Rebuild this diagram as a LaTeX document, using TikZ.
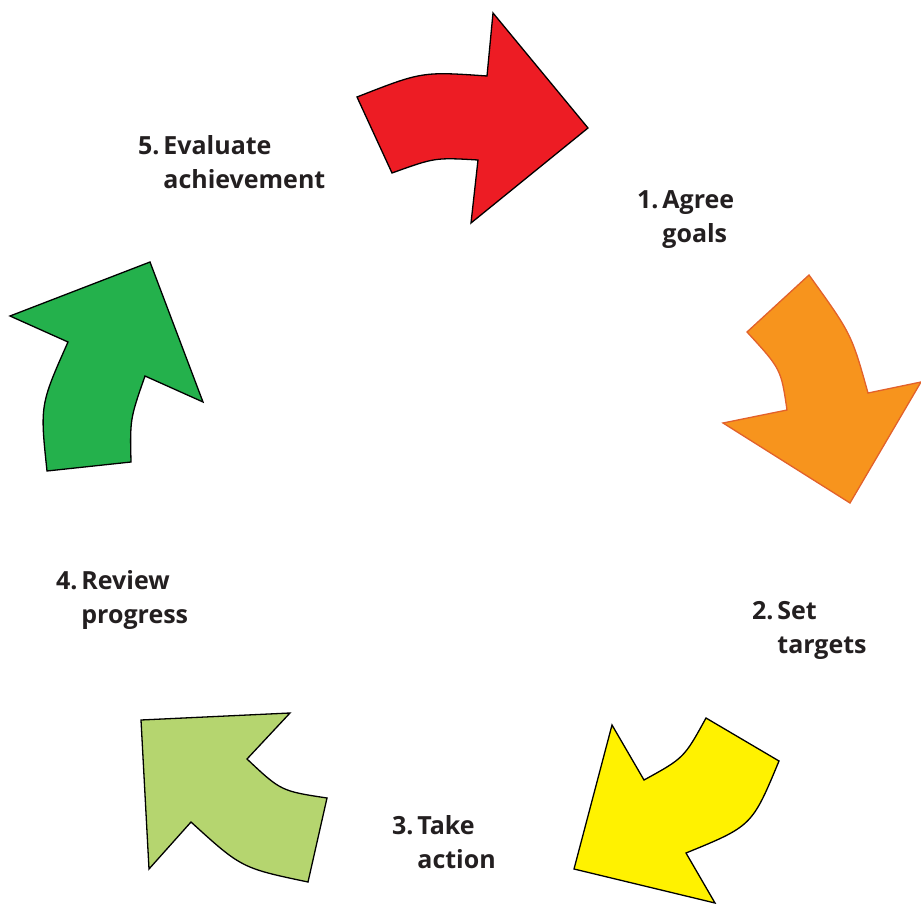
\documentclass[tikz,border=0pt]{standalone}
\usepackage{fontspec}
\setmainfont{Open Sans}
\definecolor{cred}{HTML}{ED1C24}
\definecolor{corange}{HTML}{F7941D}
\definecolor{corangeline}{HTML}{E2612B}
\definecolor{cyellow}{HTML}{FFF200}
\definecolor{clgreen}{HTML}{B5D56F}
\definecolor{cgreen}{HTML}{24B14C}
\definecolor{ctext}{HTML}{231F20}
\begin{document}
\begin{tikzpicture}[x=1pt,y=-1pt,
  arrowshape/.style={draw=black,line width=1.3pt,line join=miter},
  lbl/.style={anchor=base west,inner sep=0pt,outer sep=0pt,
    font=\bfseries\fontsize{25}{34}\selectfont,text=ctext}]
\useasboundingbox (0,0) rectangle (921,904);
% red arrow
\draw[arrowshape,fill=cred] (357,97) .. controls (422,71.5) .. (487,76)
  -- (493,13) -- (588,128) -- (471,223) -- (478,160)
  .. controls (435,157.5) .. (392,173) -- cycle;
% orange arrow
\draw[draw=corangeline,fill=corange,line width=1.3pt,line join=miter]
  (809,275) -- (747,332) .. controls (781,369) .. (787,410)
  -- (723,423) -- (850,503) -- (921,382) -- (868,393)
  .. controls (851.5,334) .. (809,275) -- cycle;
% yellow arrow
\draw[arrowshape,fill=cyellow] (706,718) -- (779,761)
  .. controls (752,826) .. (686,853) -- (715,903) -- (574,869)
  -- (612,725) -- (644,780) .. controls (684,758) .. (706,718) -- cycle;
% light green arrow
\draw[arrowshape,fill=clgreen] (141,720) -- (290,713) -- (247,759)
  .. controls (281,791) .. (327,798) -- (308,882)
  .. controls (241.5,868) .. (191,822) -- (149,869) -- cycle;
% green arrow
\draw[arrowshape,fill=cgreen] (150,262) -- (203,402) -- (145,376)
  .. controls (130,419) .. (131,462) -- (47,471)
  .. controls (40,405) .. (68,342) -- (10,316) -- cycle;
% labels
\node[lbl] (l1) at (637,208.5) {\begin{tabular}[t]{@{}l@{\hspace{4pt}}l@{}}1.&Agree\\&goals\end{tabular}};
\node[lbl] (l2) at (752,619.5) {\begin{tabular}[t]{@{}l@{\hspace{4pt}}l@{}}2.&Set\\&targets\end{tabular}};
\node[lbl] (l3) at (392,834.5) {\begin{tabular}[t]{@{}l@{\hspace{4pt}}l@{}}3.&Take\\&action\end{tabular}};
\node[lbl] (l4) at (56,589.5) {\begin{tabular}[t]{@{}l@{\hspace{4pt}}l@{}}4.&Review\\&progress\end{tabular}};
\node[lbl] (l5) at (138,154.5) {\begin{tabular}[t]{@{}l@{\hspace{4pt}}l@{}}5.&Evaluate\\&achievement\end{tabular}};
\end{tikzpicture}
\end{document}
